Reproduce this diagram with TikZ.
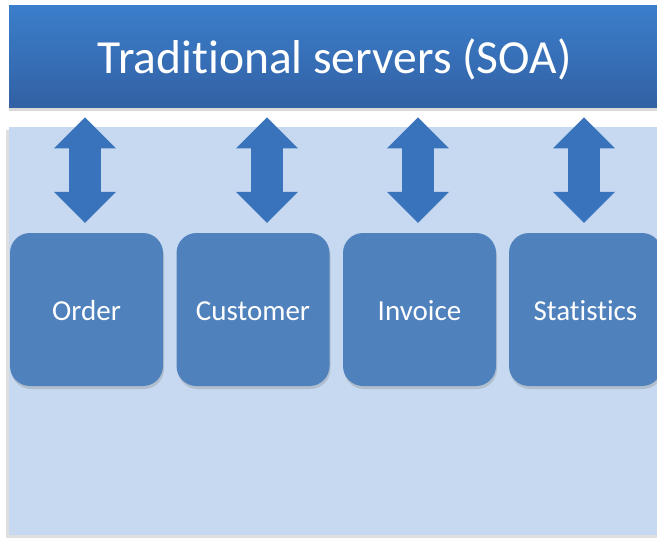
\documentclass[tikz,border=0pt]{standalone}
\usepackage{fontspec}
\setmainfont{Carlito}[Ligatures=NoCommon]
\usetikzlibrary{arrows.meta,shadows}
\definecolor{barTop}{HTML}{3B7ECB}
\definecolor{barBot}{HTML}{3261A4}
\definecolor{panelBlue}{HTML}{C6D9F0}
\definecolor{svcBlue}{HTML}{4F81BD}
\definecolor{arrBlue}{HTML}{3973BC}
\begin{document}
\begin{tikzpicture}[x=1pt,y=-1pt,
	svc/.style={fill=svcBlue,text=white,rounded corners=20pt,minimum width=153pt,minimum height=153pt,
		text height=21pt,text depth=0pt,
		font=\fontsize{29}{34}\selectfont,drop shadow={opacity=.3,shadow xshift=1pt,shadow yshift=-3pt}},
	link/.style={draw=arrBlue,line width=32pt,
		{Triangle[length=31pt,width=62pt,line width=0pt]}-{Triangle[length=31pt,width=62pt,line width=0pt]},
		shorten <=10pt,shorten >=10pt}]
	\useasboundingbox (0,0) rectangle (657,538);
	% back panel and top bar
	\node[fill=panelBlue,inner sep=0,minimum width=651pt,minimum height=408pt,anchor=north west,
		drop shadow={opacity=.25,shadow xshift=-3pt,shadow yshift=-3pt}] (panel) at (9,127) {};
	\node[shade,top color=barTop,bottom color=barBot,inner sep=0,minimum width=651pt,minimum height=102pt,
		anchor=north west,text=white,font=\fontsize{47.5}{56}\selectfont,text height=40pt,text depth=6pt,
		drop shadow={opacity=.3,shadow xshift=0pt,shadow yshift=-4pt}] (soa) at (9,5) {Traditional servers (SOA)};
	\node[svc] (order) at (86.5,309.5){Order};
	\node[svc] (customer) at (253,309.5){Customer};
	\node[svc] (invoice) at (419.5,309.5){Invoice};
	\node[svc] (statistics) at (585.5,309.5){Statistics};
	\foreach \b/\s in {order/-1.5,customer/14,invoice/-1.5,statistics/-1.5}{
		\draw[link] ([xshift=\s pt]\b.north |- soa.south) -- ([xshift=\s pt]\b.north);
	}
\end{tikzpicture}
\end{document}
